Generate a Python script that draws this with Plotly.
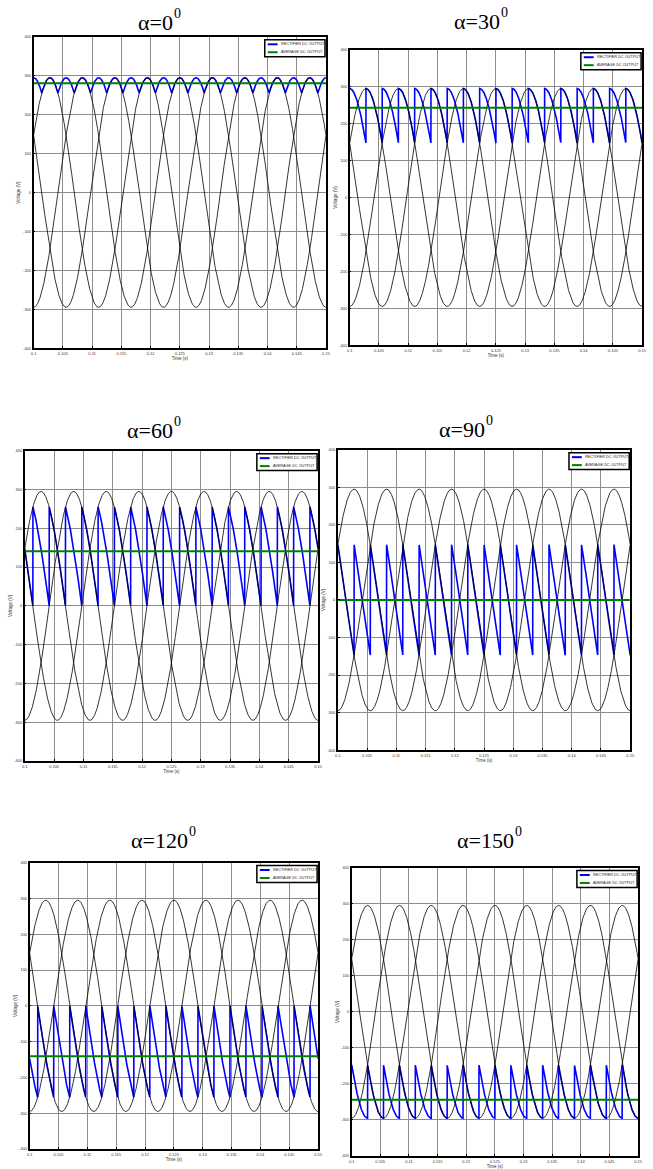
import numpy as np
import plotly.graph_objects as go

# ---- values ----
FIRING_ANGLES_DEG = [0, 30, 60, 90, 120, 150]
TITLE_MAIN = ["α=0", "α=30", "α=60", "α=90", "α=120", "α=150"]
TITLE_SUP = ["0", "0", "0", "0", "0", "0"]
AVERAGE_DC = [281, 243, 141, 0, -141, -244]        # green line levels (V)
PEAK_VOLTAGE = 295                                   # sinusoid / rectifier peak (V)
LINE_FREQ_HZ = 60                                    # one minimum every 1/180 s
PHASE_SHIFTS_DEG = [0, 120, 240]                     # the three black sinusoids
T_START, T_END = 0.1, 0.15
X_TICK_VALUES = [0.1, 0.105, 0.11, 0.115, 0.12, 0.125, 0.13, 0.135, 0.14, 0.145, 0.15]
X_TICK_LABELS = ["0.1", "0.105", "0.11", "0.115", "0.12", "0.125", "0.13", "0.135", "0.14", "0.145", "0.15"]
Y_TICK_VALUES = [-400, -300, -200, -100, 0, 100, 200, 300, 400]
Y_TICK_LABELS = ["-400", "-300", "-200", "-100", "0", "100", "200", "300", "400"]
LEGEND_LABELS = ["RECTIFIER DC OUTPUT", "AVERAGE DC OUTPUT"]

# ---- layout (pixels) ----
W, H = 653, 1169
# left, top, right, bottom of each plot area
BOXES = [(31, 34, 327, 347), (351, 47, 647, 344),
         (22, 450, 319, 762), (339, 449, 635, 751),
         (27, 864, 319, 1152), (353, 869, 643, 1159)]
# right end of superscript, vertical centre of main title text
TITLE_POS = [(182, 20), (513, 19), (182, 430), (498, 429), (197, 842), (527, 842)]

BLUE = "#0000FF"
GREEN = "#008000"
SMALL_FONT = dict(family="Liberation Sans", size=4.5, color="#333")


def px(x):
    return x / W


def py(y):
    return 1 - y / H


t = np.linspace(T_START, T_END, 4001)
theta = np.degrees(2 * np.pi * LINE_FREQ_HZ * (t - T_START))

fig = go.Figure()
shapes = []
annotations = []

for i, alpha in enumerate(FIRING_ANGLES_DEG):
    n = i + 1
    xa = "x" if n == 1 else f"x{n}"
    ya = "y" if n == 1 else f"y{n}"
    l, tp, r, b = BOXES[i]

    # rectifier output: conducting line voltage, delayed by firing angle
    phi = np.mod(theta - alpha + 30, 60) - 30 + alpha
    v_out = PEAK_VOLTAGE * np.cos(np.radians(phi))
    fig.add_trace(go.Scatter(x=t, y=v_out, mode="lines", xaxis=xa, yaxis=ya,
                             line=dict(color=BLUE, width=1.6),
                             name=LEGEND_LABELS[0], showlegend=False))
    for ps in PHASE_SHIFTS_DEG:
        v = -PEAK_VOLTAGE * np.cos(np.radians(theta - ps))
        fig.add_trace(go.Scatter(x=t, y=v, mode="lines", xaxis=xa, yaxis=ya,
                                 line=dict(color="black", width=0.8),
                                 showlegend=False))
    fig.add_trace(go.Scatter(x=[T_START, T_END], y=[AVERAGE_DC[i]] * 2, mode="lines",
                             xaxis=xa, yaxis=ya, line=dict(color=GREEN, width=2),
                             name=LEGEND_LABELS[1], showlegend=False))

    axis_common = dict(showline=True, linecolor="black", linewidth=1.5, mirror=True,
                       showgrid=True, gridcolor="#8c8c8c", gridwidth=1,
                       zeroline=False, ticks="inside", ticklen=2, tickcolor="black",
                       tickfont=dict(family="Liberation Sans", size=4, color="#333"))
    fig.layout[f"xaxis{'' if n == 1 else n}"] = dict(
        domain=[px(l), px(r)], anchor=ya, range=[T_START, T_END],
        tickvals=X_TICK_VALUES, ticktext=X_TICK_LABELS,
        title=dict(text="Time (s)", font=SMALL_FONT, standoff=2),
        **axis_common)
    fig.layout[f"yaxis{'' if n == 1 else n}"] = dict(
        domain=[py(b), py(tp)], anchor=xa, range=[-400, 400],
        tickvals=Y_TICK_VALUES, ticktext=Y_TICK_LABELS,
        title=dict(text="Voltage (V)", font=SMALL_FONT, standoff=2),
        **axis_common)

    # title: main text + raised superscript
    sx, ty = TITLE_POS[i]
    annotations.append(dict(x=px(sx - 8), y=py(ty), xref="paper", yref="paper",
                            text=TITLE_MAIN[i], showarrow=False,
                            font=dict(family="Liberation Serif", size=22, color="black"),
                            xanchor="right", yanchor="middle"))
    annotations.append(dict(x=px(sx), y=py(ty - 9.5), xref="paper", yref="paper",
                            text=TITLE_SUP[i], showarrow=False,
                            font=dict(family="Liberation Serif", size=14, color="black"),
                            xanchor="right", yanchor="middle"))

    # legend box
    bl, bt = r - 62, tp + 3
    br, bb = r - 1, tp + 20
    shapes.append(dict(type="rect", xref="paper", yref="paper",
                       x0=px(bl), x1=px(br), y0=py(bb), y1=py(bt),
                       line=dict(color="black", width=1.5), fillcolor="white"))
    for k, (col, lab) in enumerate(zip([BLUE, GREEN], LEGEND_LABELS)):
        yy = bt + 4.5 + 8 * k
        shapes.append(dict(type="line", xref="paper", yref="paper",
                           x0=px(bl + 3), x1=px(bl + 13), y0=py(yy), y1=py(yy),
                           line=dict(color=col, width=2)))
        annotations.append(dict(x=px(bl + 14), y=py(yy), xref="paper", yref="paper",
                                text=lab, showarrow=False, xanchor="left", yanchor="middle",
                                font=dict(family="Liberation Sans", size=3.8, color="#222")))

fig.update_layout(width=W, height=H, margin=dict(l=0, r=0, t=0, b=0),
                  paper_bgcolor="white", plot_bgcolor="white", showlegend=False,
                  shapes=shapes, annotations=annotations)

fig.write_html("out.html", config={"displayModeBar": False},
               post_script="document.body.style.margin='0';document.body.style.overflow='hidden';")
